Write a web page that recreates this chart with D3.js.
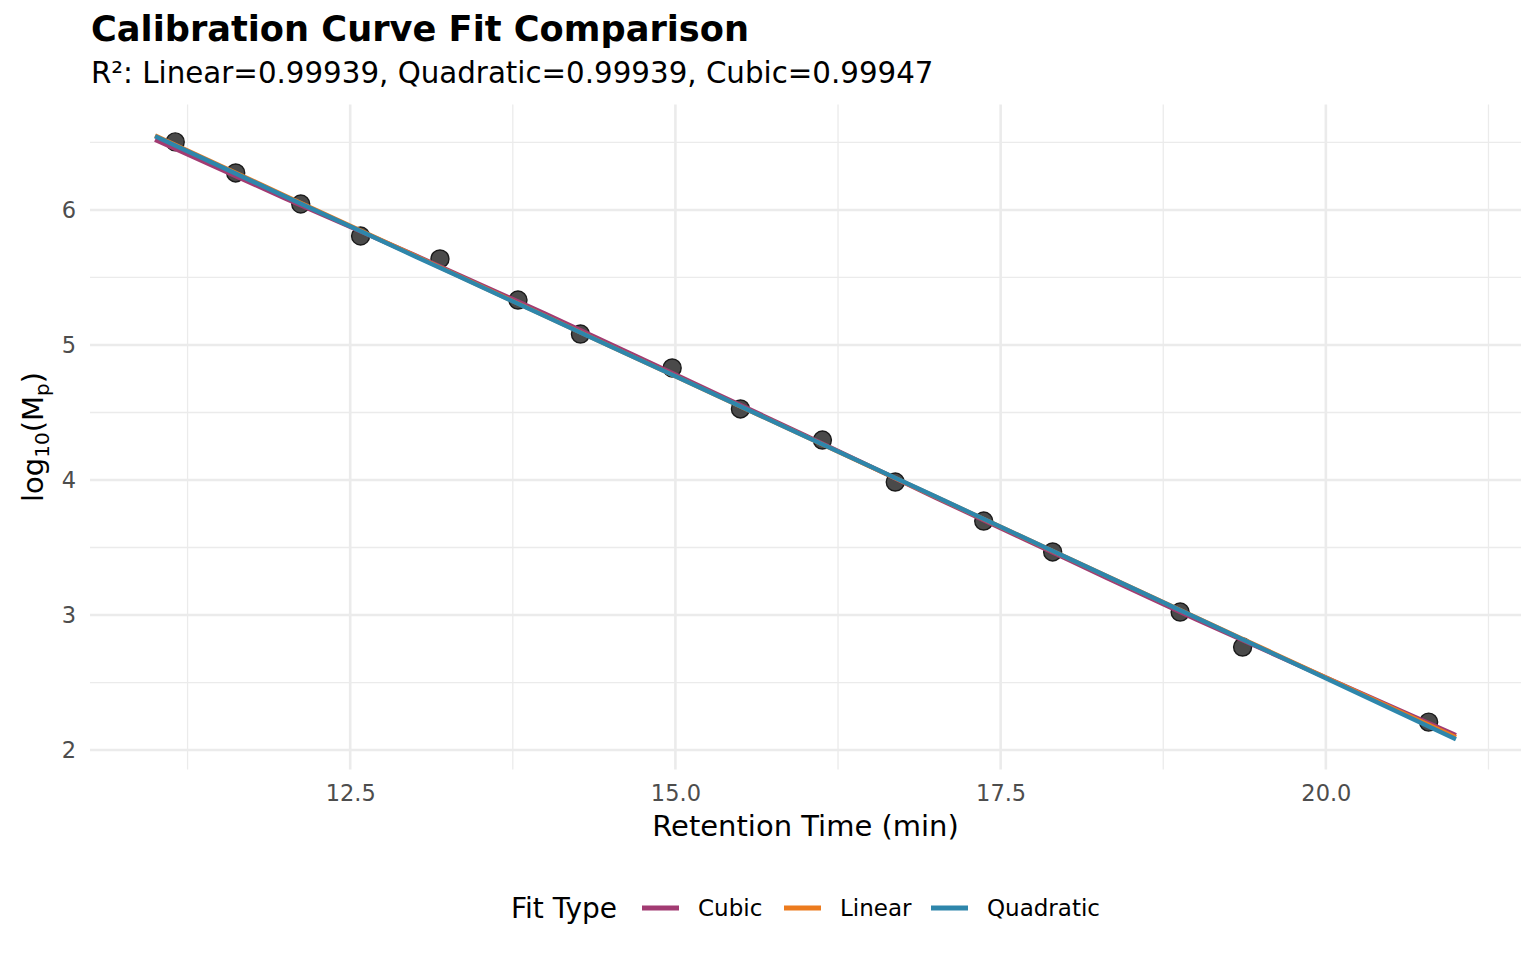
<!DOCTYPE html>
<html>
<head>
<meta charset="utf-8">
<script src="https://cdn.jsdelivr.net/npm/d3@7"></script>
<style>
body{margin:0;background:#fff;}
text{font-family:"DejaVu Sans",sans-serif;}
.tick text{fill:#4d4d4d;font-size:22.5px;}
</style>
</head>
<body>
<svg id="chart" width="1536" height="960"></svg>
<script>
// measured standards
var rtimes=[11.155,11.62,12.12,12.58,13.19,13.79,14.27,14.975,15.50,16.13,16.69,17.37,17.90,18.88,19.36,20.79];
var logmp=[6.504,6.274,6.044,5.807,5.637,5.333,5.081,4.830,4.526,4.296,3.985,3.696,3.467,3.022,2.763,2.207];

// fitted curves
var fitX=[11,12,13,14,15,16,17,18,19,20,21];
var fitCubic=[6.520,6.085,5.664,5.232,4.781,4.330,3.869,3.418,2.968,2.538,2.110];
var fitLinear=[6.552,6.106,5.660,5.214,4.768,4.322,3.876,3.430,2.984,2.538,2.094];
var fitQuadratic=[6.546,6.100,5.656,5.212,4.768,4.323,3.877,3.430,2.982,2.532,2.080];

var fitNames=["Cubic","Linear","Quadratic"];
var fitColors=["#A23B72","#EC7B1E","#2E86AB"];
var xTicks=[12.5,15,17.5,20];
var xMinor=[11.25,13.75,16.25,18.75,21.25];
var yTicks=[2,3,4,5,6];
var yMinor=[2.5,3.5,4.5,5.5,6.5];

var svg=d3.select("#chart");
var pLeft=90,pRight=1521,pTop=104.5,pBottom=769.5;

var x=d3.scaleLinear().domain([10.5,21.5]).range([pLeft,pRight]);
var y=d3.scaleLinear().domain([1.856,6.781]).range([pBottom,pTop]);

//grid
var grid=svg.append("g");
grid.selectAll(".xmin").data(xMinor).enter().append("line")
	.attr("x1",d=>x(d)).attr("x2",d=>x(d)).attr("y1",pTop).attr("y2",pBottom)
	.attr("stroke","#ebebeb").attr("stroke-width",1.3);
grid.selectAll(".ymin").data(yMinor).enter().append("line")
	.attr("y1",d=>y(d)).attr("y2",d=>y(d)).attr("x1",pLeft).attr("x2",pRight)
	.attr("stroke","#ebebeb").attr("stroke-width",1.3);
grid.selectAll(".xmaj").data(xTicks).enter().append("line")
	.attr("x1",d=>x(d)).attr("x2",d=>x(d)).attr("y1",pTop).attr("y2",pBottom)
	.attr("stroke","#ebebeb").attr("stroke-width",2.6);
grid.selectAll(".ymaj").data(yTicks).enter().append("line")
	.attr("y1",d=>y(d)).attr("y2",d=>y(d)).attr("x1",pLeft).attr("x2",pRight)
	.attr("stroke","#ebebeb").attr("stroke-width",2.6);

//axes
svg.append("g").attr("transform","translate(0,"+pBottom+")")
	.call(d3.axisBottom(x).tickValues(xTicks).tickFormat(d3.format(".1f")).tickSize(0).tickPadding(16));
svg.append("g").attr("transform","translate("+pLeft+",0)")
	.call(d3.axisLeft(y).tickValues(yTicks).tickFormat(d3.format("d")).tickSize(0).tickPadding(14));
svg.selectAll(".domain").remove();

//points
var pts=rtimes.map(function(t,i){return [t,logmp[i]];});
svg.append("g").selectAll("circle").data(pts).enter().append("circle")
	.attr("cx",d=>x(d[0])).attr("cy",d=>y(d[1])).attr("r",9)
	.attr("fill","#4a4a4a").attr("stroke","#1a1a1a").attr("stroke-width",1.4);

//fit lines
var fits=[fitCubic,fitLinear,fitQuadratic];
var line=d3.line().x(d=>x(d[0])).y(d=>y(d[1])).curve(d3.curveMonotoneX);
fits.forEach(function(f,k){
	svg.append("path")
		.datum(fitX.map(function(v,i){return [v,f[i]];}))
		.attr("d",line).attr("fill","none")
		.attr("stroke",fitColors[k]).attr("stroke-width",4.4);
});

//titles
svg.append("text").attr("x",91).attr("y",41).attr("font-size",35.2).attr("font-weight","bold")
	.text("Calibration Curve Fit Comparison");
svg.append("text").attr("x",91).attr("y",83).attr("font-size",29.3)
	.text("R²: Linear=0.99939, Quadratic=0.99939, Cubic=0.99947");
svg.append("text").attr("x",(pLeft+pRight)/2).attr("y",836).attr("text-anchor","middle").attr("font-size",29)
	.text("Retention Time (min)");
var yl=svg.append("text").attr("transform","translate(43,"+((pTop+pBottom)/2)+") rotate(-90)")
	.attr("text-anchor","middle").attr("font-size",29);
yl.append("tspan").text("log");
yl.append("tspan").attr("font-size",20).attr("dy",6).text("10");
yl.append("tspan").attr("dy",-6).text("(M");
yl.append("tspan").attr("font-size",20).attr("dy",6).text("p");
yl.append("tspan").attr("dy",-6).text(")");

//legend
var lg=svg.append("g");
lg.append("text").attr("x",511).attr("y",918).attr("font-size",28).text("Fit Type");
var keyX=[642,784,931];
fitNames.forEach(function(n,k){
	lg.append("line").attr("x1",keyX[k]).attr("x2",keyX[k]+37).attr("y1",908).attr("y2",908)
		.attr("stroke",fitColors[k]).attr("stroke-width",5);
	lg.append("text").attr("x",keyX[k]+56).attr("y",916).attr("font-size",23).text(n);
});
</script>
</body>
</html>
